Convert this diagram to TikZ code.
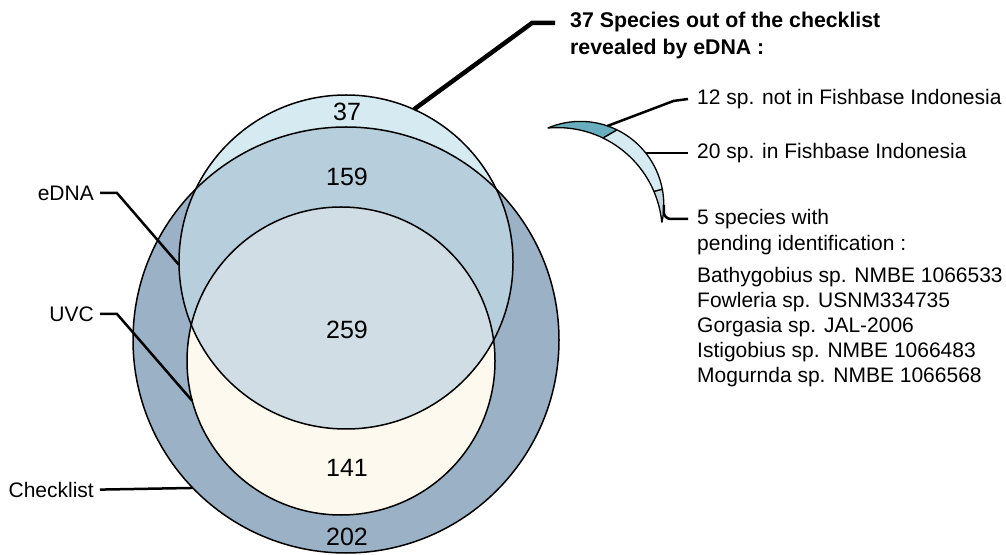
\documentclass[tikz,border=0pt]{standalone}
\usepackage{fontspec}
\setmainfont{Liberation Sans}
\usepackage{tikz}
\usetikzlibrary{
  positioning,
  calc
}
\definecolor{vnCheck}{HTML}{9BB1C5}
\definecolor{vnEdna}{HTML}{D5EBF1}
\definecolor{vnBoth}{HTML}{B7CEDC}
\definecolor{vnUvc}{HTML}{FEF9EE}
\definecolor{vnAll}{HTML}{D0DDE4}
\definecolor{vnTeal}{HTML}{68AEBE}
\definecolor{vnPend}{HTML}{C6D7DE}
\tikzset{
  vennring/.style={draw, circle, inner sep=0pt, outer sep=0pt, line width=1.5pt},
  vcount/.style={font=\fontsize{25}{30}\selectfont, inner sep=0pt},
  setname/.style={font=\fontsize{21}{25}\selectfont, anchor=east, inner sep=0pt},
  note/.style={font=\fontsize{21}{25}\selectfont, anchor=west, align=left, inner sep=0pt},
  leader/.style={line width=2.5pt},
  boldleader/.style={line width=4.5pt},
  slice/.style={draw, line width=1.3pt, line join=round}
}

\begin{document}
\begin{tikzpicture}[x=1pt, y=1pt]
  \useasboundingbox (0,0) rectangle (1006,554);
  % centres of the three sets
  \coordinate (chk-c) at (346,214);
  \coordinate (edna-c) at (346,292);
  \coordinate (uvc-c) at (341,193);
  % layered fills
  \fill[vnCheck] (chk-c) circle (213);
  \fill[vnEdna] (edna-c) circle (167);
  \begin{scope}
    \clip (edna-c) circle (167);
    \fill[vnBoth] (chk-c) circle (213);
  \end{scope}
  \fill[vnUvc] (uvc-c) circle (154);
  \begin{scope}
    \clip (uvc-c) circle (154);
    \fill[vnAll] (edna-c) circle (167);
  \end{scope}
  \node[vennring, minimum size=426pt] (chk) at (chk-c) {};
  \node[vennring, minimum size=334pt] (edna) at (edna-c) {};
  \node[vennring, minimum size=308pt] (uvc) at (uvc-c) {};

  \node[vcount] (n37) at (347,442) {37};
  \node[vcount] (n159) at (347,377) {159};
  \node[vcount] (n259) at (347,224) {259};
  \node[vcount] (n141) at (347,86) {141};
  \node[vcount] (n202) at (347,17) {202};

  \node[setname] (lab-edna) at (94,361) {eDNA};
  \node[setname] (lab-uvc) at (94,240) {UVC};
  \node[setname] (lab-chk) at (94,64.4) {Checklist};
  \draw[leader] ([xshift=6pt]lab-edna.east) -- ++(17,0) -- (edna.181.7);
  \draw[leader] ([xshift=6pt]lab-uvc.east) -- ++(17,0) -- (uvc.195.2);
  \draw[leader] ([xshift=6pt]lab-chk.east) -- (chk.224.6);

  % the 37 species, split
  \node[note, font=\fontsize{21.3}{27}\selectfont\bfseries] (title) at (570,518.5)
    {37 Species out of the checklist\\revealed by eDNA :};
  \coordinate (title-hook) at (555,531);
  \draw[boldleader] (title-hook) -- ++(-23,0) -- (edna.66.4);

  \coordinate (arc-o) at (580.4,349.2);
  \coordinate (arc-i) at (557.4,321.5);
  \draw[slice, fill=vnTeal] ([shift={(112.9:83.4)}]arc-o) arc[start angle=112.9, end angle=63.9, radius=83.4]
    -- ([shift={(64.2:104.9)}]arc-i) arc[start angle=64.2, end angle=95.1, radius=104.9] -- cycle;
  \draw[slice, fill=vnEdna] ([shift={(63.9:83.4)}]arc-o) arc[start angle=63.9, end angle=10.7, radius=83.4]
    -- ([shift={(23:104.9)}]arc-i) arc[start angle=23, end angle=64.2, radius=104.9] -- cycle;
  \draw[slice, fill=vnPend] ([shift={(10.7:83.4)}]arc-o) arc[start angle=10.7, end angle=-11.9, radius=83.4]
    -- ([shift={(5.7:104.9)}]arc-i) arc[start angle=5.7, end angle=23, radius=104.9] -- cycle;
  \coordinate (teal-pt) at ([shift={(71:83.4)}]arc-o);
  \coordinate (light-pt) at ([shift={(38.4:83.4)}]arc-o);
  \coordinate (pend-pt) at ([shift={(0:83.4)}]arc-o);

  \node[note] (sp12) at (697,455) {12 sp. not in Fishbase Indonesia};
  \node[note] (sp20) at (697,401) {20 sp. in Fishbase Indonesia};
  \node[note, font=\fontsize{21}{26}\selectfont] (pend) at (697,322) {5 species with\\pending identification :};
  \node[note] (spp) at (697,226.5) {Bathygobius sp. NMBE 1066533\\Fowleria sp. USNM334735\\Gorgasia sp. JAL-2006\\Istigobius sp. NMBE 1066483\\Mogurnda sp. NMBE 1066568};
  \coordinate (pend-hook) at (688,335);
  \draw[leader] (teal-pt) -- ++(66,25) -- ([xshift=-9pt]sp12.west);
  \draw[leader] ([xshift=-9pt]sp20.west) -- (sp20.west -| light-pt);
  \draw[leader, rounded corners=7pt] (pend-pt) |- (pend-hook);
\end{tikzpicture}
\end{document}
